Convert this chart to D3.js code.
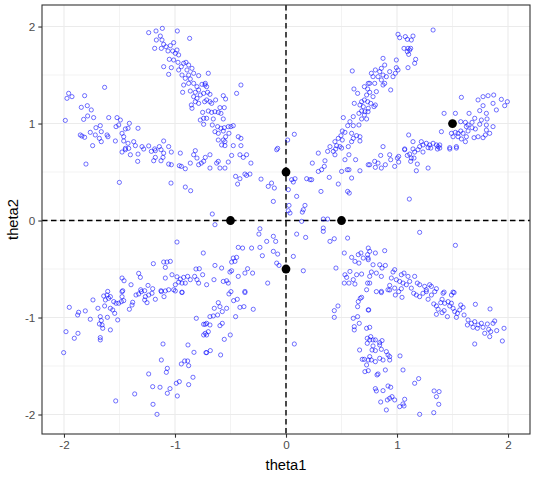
<!DOCTYPE html>
<html>
<head>
<meta charset="utf-8">
<script src="https://cdn.jsdelivr.net/npm/d3@7"></script>
<style>
  body { margin: 0; background: #fff; }
  text { font-family: "Liberation Sans", Arial, sans-serif; }
</style>
</head>
<body>
<div id="chart"></div>
<script>
// samples, grouped by region

// upper-left, steep arm
var ptsNW = [[-1.237,1.937],[-1.171,1.954],[-1.114,1.981],[-0.979,1.954],[-0.868,1.878],[-1.132,1.902],[-1.117,1.861],[-1.168,1.861],
  [-1.183,1.775],[-1.102,1.816],[-1.081,1.792],[-1.042,1.803],[-1.012,1.834],[-1.123,1.775],[-1.063,1.748],[-1.021,1.748],
  [-0.997,1.724],[-0.982,1.758],[-0.967,1.707],[-1.051,1.662],[-1.012,1.655],[-0.973,1.631],[-1.102,1.586],[-1.033,1.576],
  [-1.057,1.507],[-0.967,1.552],[-0.943,1.586],[-0.922,1.621],[-0.901,1.631],[-0.877,1.603],[-0.847,1.569],[-0.892,1.552],
  [-0.937,1.500],[-0.877,1.500],[-0.832,1.518],[-0.787,1.494],[-0.907,1.466],[-0.862,1.459],[-0.922,1.397],[-0.877,1.414],
  [-0.832,1.414],[-0.802,1.380],[-0.757,1.404],[-0.727,1.414],[-0.862,1.335],[-0.817,1.322],[-0.787,1.346],[-0.931,1.322],
  [-0.832,1.277],[-0.802,1.260],[-0.772,1.294],[-0.742,1.311],[-0.817,1.225],[-0.787,1.208],[-0.733,1.225],[-0.853,1.191],
  [-0.847,1.157],[-0.751,1.115],[-0.772,1.036],[-0.742,1.054],[-0.742,0.992],
  [-0.700,1.518],[-0.730,1.397],[-0.715,1.380],[-0.706,1.322],[-0.685,1.301],[-0.715,1.243],[-0.685,1.225],[-0.670,1.208],
  [-0.634,1.243],[-0.565,1.287],[-0.544,1.253],[-0.445,1.311],[-0.406,1.397],[-0.595,1.164],[-0.556,1.164],[-0.700,1.129],
  [-0.670,1.115],[-0.640,1.122],[-0.610,1.115],[-0.586,1.105],[-0.715,1.054],[-0.655,1.047],[-0.565,1.047],[-0.664,0.985],
  [-0.616,0.968],[-0.586,0.951],[-0.556,0.957],[-0.520,0.968],[-0.496,0.968],[-0.475,0.978],[-0.640,0.916],[-0.610,0.899],
  [-0.565,0.923],[-0.544,0.864],[-0.514,0.899],[-0.430,0.864],[-0.406,0.847],[-0.610,0.830],[-0.565,0.830],[-0.550,0.813],
  [-0.580,0.779],[-0.550,0.772],[-0.475,0.772],[-0.406,0.772],[-0.075,0.744],[0.075,0.889],[0.015,0.830]];

// left, shallow arm
var ptsW = [[-1.958,1.311],[-1.973,1.260],[-1.928,1.277],[-1.814,1.287],[-1.634,1.373],[-1.844,1.167],[-1.790,1.184],[-1.754,1.140],
  [-1.823,1.043],[-1.787,1.078],[-1.733,1.061],[-1.988,1.032],[-1.597,1.061],[-1.522,1.061],[-1.492,1.036],[-1.507,0.985],
  [-1.411,1.002],[-1.447,0.944],[-1.423,0.951],[-1.333,0.951],[-1.531,0.968],[-1.712,0.957],[-1.673,0.978],[-1.664,0.916],
  [-1.763,0.909],[-1.853,0.882],[-1.838,0.871],[-1.814,0.858],[-1.718,0.882],[-1.612,0.882],[-1.604,0.864],[-1.477,0.899],
  [-1.462,0.864],[-1.537,0.820],[-1.462,0.820],[-1.681,0.847],[-1.664,0.813],[-1.742,0.772],[-1.423,0.796],[-1.372,0.813],
  [-1.357,0.772],[-1.297,0.762],[-1.237,0.769],[-1.183,0.738],[-1.141,0.762],[-1.102,0.820],[-1.057,0.762],[-1.447,0.744],
  [-1.417,0.744],[-1.477,0.706],[-1.447,0.730],[-1.402,0.678],[-1.333,0.685],[-1.336,0.610],[-1.802,0.582],[-1.282,0.737],
  [-1.213,0.713],[-1.177,0.720],[-1.126,0.730],[-1.102,0.695],[-1.192,0.616],[-1.177,0.651],[-1.126,0.616],[-1.108,0.651],
  [-1.057,0.582],[-1.033,0.575],[-1.033,0.706],[-0.952,0.695],[-0.961,0.565],[-0.943,0.558],[-0.907,0.534],[-0.862,0.592],
  [-0.832,0.678],[-0.817,0.720],[-0.802,0.644],[-0.787,0.575],[-0.763,0.592],[-0.742,0.610],[-0.727,0.651],[-1.501,0.393],
  [-1.036,0.386],[-0.907,0.345],[-0.859,0.307],
  [-0.685,0.678],[-0.610,0.610],[-0.625,0.592],[-0.685,0.541],[-0.595,0.541],[-0.550,0.541],[-0.520,0.603],[-0.490,0.671],
  [-0.415,0.678],[-0.385,0.651],[-0.355,0.678],[-0.316,0.592],[-0.325,0.479],[-0.355,0.465],[-0.454,0.455],[-0.415,0.431],
  [-0.436,0.376],[-0.370,0.479],[-0.225,0.427],[-0.160,0.352],[-0.105,0.335],[-0.130,0.386],[-0.114,0.197],[-0.084,0.730]];

// lower-left, shallow arm
var ptsSW = [[-0.982,-0.222],[-0.745,-0.335],[-1.195,-0.445],[-1.102,-0.428],[-1.072,-0.428],[-1.042,-0.421],[-1.087,-0.483],
  [-1.327,-0.545],[-1.477,-0.593],[-1.459,-0.621],[-1.396,-0.662],[-1.312,-0.586],[-1.027,-0.559],[-0.982,-0.580],[-1.087,-0.593],
  [-0.952,-0.604],[-0.922,-0.586],[-0.886,-0.576],[-0.862,-0.610],[-0.823,-0.576],[-0.811,-0.500],[-0.781,-0.497],[-0.751,-0.559],
  [-0.802,-0.610],[-0.787,-0.645],[-0.997,-0.662],[-0.967,-0.635],[-0.937,-0.645],[-0.907,-0.645],[-1.243,-0.669],[-1.201,-0.703],
  [-1.309,-0.714],[-1.273,-0.724],[-1.606,-0.731],[-1.471,-0.724],[-1.126,-0.724],[-1.057,-0.714],[-1.012,-0.714],[-0.937,-0.738],
  [-1.739,-0.819],[-1.952,-0.895],[-1.868,-0.946],[-1.877,-0.974],[-1.808,-0.932],[-1.763,-1.018],[-1.694,-0.905],[-1.642,-0.778],
  [-1.627,-0.819],[-1.634,-0.881],[-1.598,-0.802],[-1.582,-0.905],[-1.561,-0.922],[-1.612,-0.768],[-1.582,-0.785],[-1.552,-0.836],
  [-1.531,-0.853],[-1.507,-0.853],[-1.483,-0.836],[-1.462,-0.826],[-1.477,-0.785],[-1.543,-0.957],[-1.673,-0.991],[-1.664,-1.032],
  [-1.681,-1.067],[-1.657,-1.077],[-1.651,-1.111],[-1.609,-0.998],[-1.582,-1.128],[-1.516,-1.025],[-1.673,-1.207],[-1.673,-1.231],
  [-1.982,-1.146],[-1.907,-1.214],[-1.874,-1.163],[-2.003,-1.362],[-1.411,-0.915],[-1.387,-0.871],[-1.381,-0.843],[-1.351,-0.768],
  [-1.327,-0.757],[-1.303,-0.733],[-1.273,-0.819],[-1.252,-0.847],[-1.267,-0.785],[-1.237,-0.768],[-1.207,-0.750],[-1.177,-0.812],
  [-1.123,-0.733],[-1.099,-0.785],[-1.087,-0.726],[-0.997,-0.726],[-0.937,-0.743],[-1.477,-0.733],
  [-0.664,0.067],[-0.640,-0.043],[-0.235,-0.085],[-0.244,-0.140],[-0.114,-0.163],[-0.174,-0.215],[-0.093,-0.215],[-0.430,-0.277],
  [-0.391,-0.284],[-0.310,-0.284],[-0.235,-0.277],[-0.213,-0.363],[-0.114,-0.318],[-0.075,-0.346],[-0.475,-0.387],[-0.445,-0.380],
  [-0.460,-0.421],[-0.490,-0.428],[-0.640,-0.463],[-0.580,-0.490],[-0.346,-0.497],[-0.370,-0.542],[-0.301,-0.542],[-0.430,-0.576],
  [-0.505,-0.531],[-0.490,-0.518],[-0.084,-0.439],[-0.063,-0.463],[-0.649,-0.610],[-0.565,-0.628],[-0.535,-0.621],[-0.520,-0.645],
  [-0.715,-0.662],[-0.370,-0.731],[-0.165,-0.645]];

// lower-left, steep arm
var ptsSSW = [[-0.808,-1.008],[-0.742,-1.070],[-0.727,-1.070],[-0.742,-1.180],[-0.727,-1.163],[-1.108,-1.273],[-0.883,-1.283],
  [-0.829,-1.359],[-0.721,-1.362],[-1.123,-1.438],[-0.913,-1.448],[-0.886,-1.448],[-0.943,-1.479],[-0.877,-1.496],[-1.069,-1.524],
  [-1.078,-1.565],[-0.838,-1.616],[-1.237,-1.582],[-0.961,-1.661],[-0.988,-1.678],[-0.877,-1.692],[-1.201,-1.713],[-1.135,-1.719],
  [-1.045,-1.733],[-1.069,-1.781],[-0.979,-1.809],[-1.363,-1.788],[-1.534,-1.860],[-1.198,-1.895],[-1.162,-1.998],
  [-0.370,-0.743],[-0.496,-0.733],[-0.514,-0.757],[-0.439,-0.812],[-0.472,-0.826],[-0.610,-0.847],[-0.646,-0.905],[-0.595,-0.888],
  [-0.574,-0.939],[-0.535,-0.905],[-0.415,-0.895],[-0.379,-0.888],[-0.295,-0.915],[-0.685,-0.991],[-0.655,-0.984],[-0.616,-0.974],
  [-0.454,-0.991],[-0.715,-1.060],[-0.685,-1.077],[-0.595,-1.084],[-0.574,-1.060],[-0.700,-1.146],[-0.715,-1.180],[-0.556,-1.225],
  [-0.502,-1.180],[-0.715,-1.362],[-0.682,-1.341],[-0.589,-1.386]];

// lower-right, steep arm
var ptsSSE = [[0.075,-1.273],[0.435,-0.929],[0.468,-0.881],[0.435,-0.998],[0.606,-1.008],[0.645,-0.991],[0.645,-0.888],
  [0.651,-0.836],[0.669,-0.802],[0.681,-0.792],[0.741,-0.922],[0.660,-1.060],[0.615,-1.094],[0.615,-1.128],[0.726,-1.111],
  [0.732,-1.214],[0.732,-1.266],[0.663,-1.335],[0.687,-1.431],[0.705,-1.431],[0.741,-1.438],[0.726,-1.489],[0.711,-1.558],
  [0.741,-1.548],[0.745,-0.922],[0.754,-1.101],[0.763,-1.197],[0.754,-1.231],[0.784,-1.231],[0.805,-1.231],[0.844,-1.259],
  [0.865,-1.238],[0.784,-1.293],[0.844,-1.283],[0.775,-1.335],[0.805,-1.341],[0.859,-1.328],[0.754,-1.403],[0.769,-1.438],
  [0.805,-1.455],[0.844,-1.421],[0.874,-1.438],[0.904,-1.352],[0.919,-1.386],[0.934,-1.403],[0.934,-1.438],[0.895,-1.541],
  [0.829,-1.582],[0.820,-1.592],[1.027,-1.396],[1.054,-1.541],[0.805,-1.733],[0.814,-1.757],[0.874,-1.754],[0.853,-1.871],
  [0.919,-1.706],[0.943,-1.719],[0.913,-1.850],[0.934,-1.833],[0.955,-1.816],[0.979,-1.850],[0.904,-1.953],[1.024,-1.919],
  [1.063,-1.912],[1.069,-1.843],[1.054,-1.891],[1.159,-1.678],[1.195,-1.630],[1.204,-1.998],[1.334,-1.757],[1.379,-1.764],
  [1.355,-1.816],[1.376,-1.895],[1.331,-1.981]];

// lower-right, shallow arm
var ptsSE = [[0.814,-0.733],[0.859,-0.743],[0.934,-0.716],[0.985,-0.768],[1.015,-0.733],[1.045,-0.792],[1.150,-0.750],
  [1.174,-0.768],[1.204,-0.785],[1.234,-0.750],[1.264,-0.733],[1.280,-0.812],[1.310,-0.768],[1.340,-0.733],[1.415,-0.750],
  [1.490,-0.768],[1.514,-0.743],[1.331,-0.860],[1.355,-0.881],[1.394,-0.847],[1.406,-0.812],[1.430,-0.853],[1.460,-0.836],
  [1.475,-0.881],[1.490,-0.853],[1.370,-0.915],[1.406,-0.950],[1.355,-0.967],[1.454,-0.991],[1.424,-0.929],[1.505,-0.905],
  [1.520,-0.939],[1.544,-0.957],[1.574,-0.871],[1.595,-0.895],[1.565,-0.922],[1.604,-0.974],[1.535,-0.998],[1.640,-1.025],
  [1.634,-1.077],[1.670,-1.060],[1.700,-1.043],[1.706,-0.864],[1.685,-1.101],[1.724,-1.111],[1.730,-1.077],[1.760,-1.060],
  [1.775,-1.101],[1.790,-1.163],[1.814,-1.067],[1.826,-1.122],[1.844,-1.146],[1.835,-1.197],[1.865,-1.060],[1.880,-1.036],
  [1.898,-1.135],[1.964,-1.111],[1.949,-1.242],[1.700,-1.273],[1.838,-0.912],
  [1.204,-0.122],[1.526,-0.256],[0.754,-0.318],[0.805,-0.335],[0.889,-0.311],[0.739,-0.387],[0.784,-0.456],[0.844,-0.456],
  [0.865,-0.490],[0.895,-0.463],[0.769,-0.531],[0.814,-0.542],[0.754,-0.576],[0.859,-0.576],[0.979,-0.507],[0.964,-0.531],
  [1.039,-0.559],[1.063,-0.542],[1.099,-0.576],[1.159,-0.576],[0.949,-0.593],[0.994,-0.610],[1.024,-0.628],[1.054,-0.645],
  [1.084,-0.662],[1.114,-0.628],[1.183,-0.645],[1.204,-0.662],[1.249,-0.679],[1.294,-0.662],[1.310,-0.679],[0.934,-0.669],
  [0.979,-0.697],[1.039,-0.703],[1.129,-0.697],[1.264,-0.714],[1.355,-0.703],[1.424,-0.738],[1.505,-0.738],[0.754,-0.645],
  [0.859,-0.731],[0.919,-0.714],
  [0.096,-0.140],[0.177,-0.174],[0.336,-0.078],[0.336,-0.112],[0.396,-0.215],[0.435,-0.188],[0.555,-0.181],[0.066,-0.370],
  [0.156,-0.518],[0.450,-0.490],[0.525,-0.335],[0.531,-0.559],[0.546,-0.586],[0.591,-0.380],[0.621,-0.421],[0.651,-0.352],
  [0.675,-0.335],[0.696,-0.387],[0.657,-0.439],[0.735,-0.352],[0.741,-0.284],[0.741,-0.404],[0.636,-0.559],[0.681,-0.552],
  [0.576,-0.525],[0.567,-0.645],[0.621,-0.655],[0.525,-0.645],[0.735,-0.645],[0.606,-0.610],[0.726,-0.714]];

// upper-right, steep arm
var ptsNNE = [[1.009,1.920],[1.024,1.885],[1.075,1.896],[1.093,1.868],[1.144,1.902],[1.129,1.861],[1.325,1.964],[1.063,1.775],
  [1.099,1.775],[1.114,1.758],[1.093,1.741],[1.105,1.713],[1.123,1.775],[1.168,1.662],[1.159,1.621],[1.099,1.576],
  [0.994,1.655],[0.994,1.576],[1.009,1.552],[0.985,1.518],[0.964,1.483],[0.943,1.346],[0.874,1.672],[0.889,1.603],
  [0.859,1.569],[0.844,1.535],[0.874,1.500],[0.904,1.483],[0.934,1.535],[0.805,1.552],[0.769,1.518],[0.754,1.414],
  [0.784,1.483],[0.829,1.483],[0.859,1.449],[0.889,1.414],[0.799,1.414],[0.754,1.322],[0.814,1.329],[0.784,1.277],
  [0.805,1.191],[0.763,1.208],[0.739,1.122],[0.793,1.174],[0.874,1.397],[0.874,0.762],
  [0.597,1.542],[0.612,1.356],[0.706,1.380],[0.741,1.414],[0.645,1.311],[0.736,1.356],[0.615,1.208],[0.681,1.225],
  [0.706,1.243],[0.736,1.225],[0.666,1.191],[0.696,1.174],[0.681,1.129],[0.711,1.122],[0.741,1.157],[0.657,1.105],
  [0.706,1.088],[0.516,1.061],[0.606,1.071],[0.576,1.019],[0.556,0.978],[0.606,0.978],[0.657,0.985],[0.681,1.047],
  [0.726,1.047],[0.507,0.923],[0.495,0.875],[0.531,0.909],[0.471,0.847],[0.507,0.830],[0.591,0.899],[0.636,0.875],
  [0.666,0.864],[0.666,0.820],[0.591,0.813],[0.606,0.847],[0.441,0.813],[0.456,0.772],[0.486,0.762],[0.396,0.762],
  [0.561,0.762],[0.726,1.294],
  [0.051,0.421],[0.066,0.397],[0.021,0.318],[0.096,0.249],[0.027,0.156],[0.036,0.077],[0.171,0.156],[0.156,0.111],
  [0.147,0.087],[0.141,-0.009],[0.231,0.421],[0.237,0.592],[0.186,0.431],[0.216,0.421],[0.315,0.300],[0.291,0.506],
  [0.321,0.524],[0.345,0.558],[0.351,0.616],[0.291,0.695],[0.375,0.713],[0.426,0.713],[0.441,0.678],[0.447,0.737],
  [0.501,0.747],[0.567,0.678],[0.531,0.627],[0.501,0.506],[0.552,0.524],[0.567,0.524],[0.627,0.627],[0.666,0.513],
  [0.591,0.438],[0.390,0.445],[0.471,0.376],[0.555,0.300],[0.570,0.283],[0.741,0.575],[0.336,0.015],[0.375,0.015],
  [0.021,0.101],[0.081,0.431]];

// right, shallow arm
var ptsE = [[1.580,1.270],[1.730,1.243],[1.775,1.277],[1.820,1.287],[1.871,1.294],[1.775,1.184],[1.865,1.208],[1.940,1.249],
  [1.994,1.225],[1.970,1.184],[1.895,1.140],[1.745,1.133],[1.805,1.105],[1.649,1.105],[1.424,1.105],[1.526,1.105],
  [1.700,1.054],[1.760,1.036],[1.811,1.047],[1.574,1.019],[1.616,1.012],[1.676,1.012],[1.745,0.992],[1.805,0.985],
  [1.865,0.968],[1.400,0.916],[1.490,0.899],[1.526,0.909],[1.574,0.923],[1.625,0.968],[1.640,0.985],[1.676,0.957],
  [1.706,0.944],[1.805,0.933],[1.835,0.899],[1.550,0.899],[1.595,0.899],[1.640,0.923],[1.505,0.864],[1.550,0.864],
  [1.580,0.841],[1.625,0.864],[1.616,0.813],[1.694,0.854],[1.730,0.864],[1.775,0.854],[1.796,0.882],[1.105,0.882],
  [1.144,0.813],[1.219,0.813],[1.234,0.779],[1.264,0.796],[1.294,0.779],[1.325,0.796],[1.355,0.779],[1.385,0.779],
  [1.370,0.762],[1.475,0.751],[1.535,0.762],[1.069,0.738],[1.144,0.738],[1.204,0.762],[1.280,0.751],
  [0.853,0.671],[0.799,0.610],[0.754,0.575],[0.805,0.548],[0.859,0.541],[0.829,0.592],[0.895,0.575],[0.934,0.678],
  [0.943,0.627],[0.979,0.558],[1.003,0.644],[1.015,0.661],[1.015,0.603],[1.069,0.730],[1.093,0.671],[1.114,0.685],
  [1.129,0.644],[1.123,0.610],[1.153,0.644],[1.159,0.706],[1.183,0.582],[1.174,0.513],[1.189,0.730],[1.234,0.706],
  [1.280,0.541],[1.304,0.747],[1.364,0.737],[1.385,0.747],[1.475,0.737],[1.535,0.747],[1.111,0.221]];

// the five filled points
var centersX = [0, -0.5, 0.5, 0, 1.5];
var centersY = [0.5, 0, 0, -0.5, 1];

var ticks = [-2, -1, 0, 1, 2];
var minorTicks = [-1.5, -0.5, 0.5, 1.5];
var xLabel = "theta1", yLabel = "theta2";

var width = 538, height = 477;
var margin = {top: 5, right: 8, bottom: 43, left: 42};

var svg = d3.select("#chart").append("svg")
  .attr("width", width)
  .attr("height", height);

var x = d3.scaleLinear().domain([-2.198, 2.198]).range([margin.left, width - margin.right]);
var y = d3.scaleLinear().domain([-2.201, 2.222]).range([height - margin.bottom, margin.top]);

var grid = svg.append("g");
grid.selectAll(".vmin").data(minorTicks).enter().append("line")
  .attr("x1", d => x(d)).attr("x2", d => x(d))
  .attr("y1", margin.top).attr("y2", height - margin.bottom)
  .attr("stroke", "#ebebeb").attr("stroke-width", 0.6);
grid.selectAll(".hmin").data(minorTicks).enter().append("line")
  .attr("y1", d => y(d)).attr("y2", d => y(d))
  .attr("x1", margin.left).attr("x2", width - margin.right)
  .attr("stroke", "#ebebeb").attr("stroke-width", 0.6);
grid.selectAll(".vmaj").data(ticks).enter().append("line")
  .attr("x1", d => x(d)).attr("x2", d => x(d))
  .attr("y1", margin.top).attr("y2", height - margin.bottom)
  .attr("stroke", "#ebebeb").attr("stroke-width", 1.1);
grid.selectAll(".hmaj").data(ticks).enter().append("line")
  .attr("y1", d => y(d)).attr("y2", d => y(d))
  .attr("x1", margin.left).attr("x2", width - margin.right)
  .attr("stroke", "#ebebeb").attr("stroke-width", 1.1);

// dashed reference lines
svg.append("line")
  .attr("x1", x(0)).attr("x2", x(0))
  .attr("y1", margin.top).attr("y2", height - margin.bottom)
  .attr("stroke", "#000").attr("stroke-width", 1.4).attr("stroke-dasharray", "5.5,3.5");
svg.append("line")
  .attr("y1", y(0)).attr("y2", y(0))
  .attr("x1", margin.left).attr("x2", width - margin.right)
  .attr("stroke", "#000").attr("stroke-width", 1.4).attr("stroke-dasharray", "5.5,3.5");

var allPts = [].concat(ptsNW, ptsW, ptsSW, ptsSSW, ptsSSE, ptsSE, ptsNNE, ptsE);

svg.append("g").selectAll("circle").data(allPts).enter().append("circle")
  .attr("cx", d => x(d[0]))
  .attr("cy", d => y(d[1]))
  .attr("r", 2.1)
  .attr("fill", "none")
  .attr("stroke", "blue")
  .attr("stroke-opacity", 0.65)
  .attr("stroke-width", 0.85);

svg.append("g").selectAll("circle").data(centersX).enter().append("circle")
  .attr("cx", d => x(d))
  .attr("cy", (d, i) => y(centersY[i]))
  .attr("r", 4.4)
  .attr("fill", "#000");

// panel border
svg.append("rect")
  .attr("x", margin.left).attr("y", margin.top)
  .attr("width", width - margin.left - margin.right)
  .attr("height", height - margin.top - margin.bottom)
  .attr("fill", "none").attr("stroke", "#333").attr("stroke-width", 1.1);

var xAxis = svg.append("g")
  .attr("transform", "translate(0," + (height - margin.bottom) + ")")
  .call(d3.axisBottom(x).tickValues(ticks).tickSize(3.7).tickPadding(3).tickFormat(d3.format("d")));
var yAxis = svg.append("g")
  .attr("transform", "translate(" + margin.left + ",0)")
  .call(d3.axisLeft(y).tickValues(ticks).tickSize(3.7).tickPadding(3).tickFormat(d3.format("d")));

[xAxis, yAxis].forEach(function(a) {
  a.select(".domain").remove();
  a.selectAll(".tick line").attr("stroke", "#333").attr("stroke-width", 1.1);
  a.selectAll(".tick text")
    .attr("fill", "#4d4d4d")
    .style("font-size", "11.7px")
    .style("font-family", "'Liberation Sans', Arial, sans-serif")
    .text(d => d < 0 ? "-" + Math.abs(d) : d);
});

svg.append("text")
  .attr("x", (margin.left + width - margin.right) / 2)
  .attr("y", 470)
  .attr("text-anchor", "middle")
  .style("font-size", "14.7px")
  .text(xLabel);

svg.append("text")
  .attr("transform", "translate(18," + ((margin.top + height - margin.bottom) / 2) + ") rotate(-90)")
  .attr("text-anchor", "middle")
  .style("font-size", "14.7px")
  .text(yLabel);
</script>
</body>
</html>
